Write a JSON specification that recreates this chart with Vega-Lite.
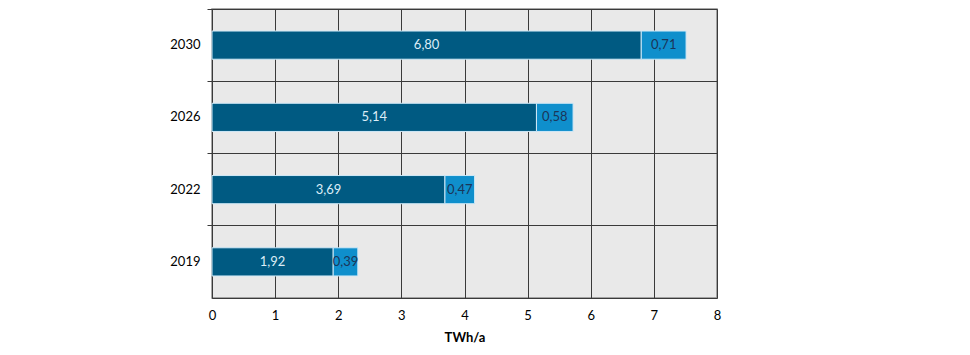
{
  "$schema": "https://vega.github.io/schema/vega-lite/v6.json",
  "width": 505,
  "height": 289,
  "autosize": "none",
  "padding": {"left": 212, "top": 9, "right": 253, "bottom": 57},
  "background": "white",
  "config": {
    "locale": {"number": {"decimal": ",", "thousands": ".", "grouping": [3], "currency": ["", " €"]}},
    "view": {"fill": "#e9e9e9", "stroke": "#8c8c8c", "strokeWidth": 1.5},
    "font": "Lato"
  },
  "data": {
    "values": [
      {"year": "2030", "part": "a", "value": 6.80},
      {"year": "2030", "part": "b", "value": 0.71},
      {"year": "2026", "part": "a", "value": 5.14},
      {"year": "2026", "part": "b", "value": 0.58},
      {"year": "2022", "part": "a", "value": 3.69},
      {"year": "2022", "part": "b", "value": 0.47},
      {"year": "2019", "part": "a", "value": 1.92},
      {"year": "2019", "part": "b", "value": 0.39}
    ]
  },
  "layer": [
    {
      "mark": {"type": "bar", "height": {"band": 0.39}, "stroke": "#cfe9f7", "strokeWidth": 1},
      "encoding": {
        "y": {
          "field": "year", "type": "nominal", "sort": ["2030", "2026", "2022", "2019"],
          "scale": {"paddingInner": 0, "paddingOuter": 0},
          "axis": {
            "title": null, "bandPosition": 0, "grid": true, "gridColor": "#3a3a3a", "gridOpacity": 1,
            "tickColor": "#3a3a3a", "tickSize": 5, "domainColor": "#3a3a3a", "labelOffset": 0,
            "labelFontSize": 13, "labelColor": "#000000", "labelPadding": 7, "labelFont": "Lato"
          }
        },
        "x": {
          "field": "value", "type": "quantitative", "stack": "zero",
          "scale": {"domain": [0, 8], "nice": false},
          "axis": {
            "title": "TWh/a", "titleFontWeight": "bold", "titleFontSize": 13, "titleColor": "#000000",
            "titlePadding": 9, "titleFont": "Lato",
            "grid": true, "gridColor": "#3a3a3a", "gridOpacity": 1, "ticks": false,
            "domainColor": "#3a3a3a", "labelPadding": 11, "labelFontSize": 13, "labelColor": "#000000",
            "labelFont": "Lato", "labelFlush": false, "values": [0, 1, 2, 3, 4, 5, 6, 7, 8], "format": "d"
          }
        },
        "color": {"field": "part", "type": "nominal", "scale": {"domain": ["a", "b"], "range": ["#005a82", "#0f8fcc"]}, "legend": null},
        "order": {"field": "part"}
      }
    },
    {
      "transform": [
        {"stack": "value", "groupby": ["year"], "sort": [{"field": "part"}], "as": ["x0", "x1"]},
        {"calculate": "(datum.x0 + datum.x1) / 2", "as": "xmid"}
      ],
      "mark": {"type": "text", "fontSize": 13, "font": "Lato", "baseline": "middle", "align": "center"},
      "encoding": {
        "y": {"field": "year", "type": "nominal", "sort": ["2030", "2026", "2022", "2019"]},
        "x": {"field": "xmid", "type": "quantitative"},
        "text": {"field": "value", "type": "quantitative", "format": ".2f"},
        "color": {"condition": {"test": "datum.part == 'a'", "value": "#dcedf7"}, "value": "#1b3558"}
      }
    }
  ]
}
